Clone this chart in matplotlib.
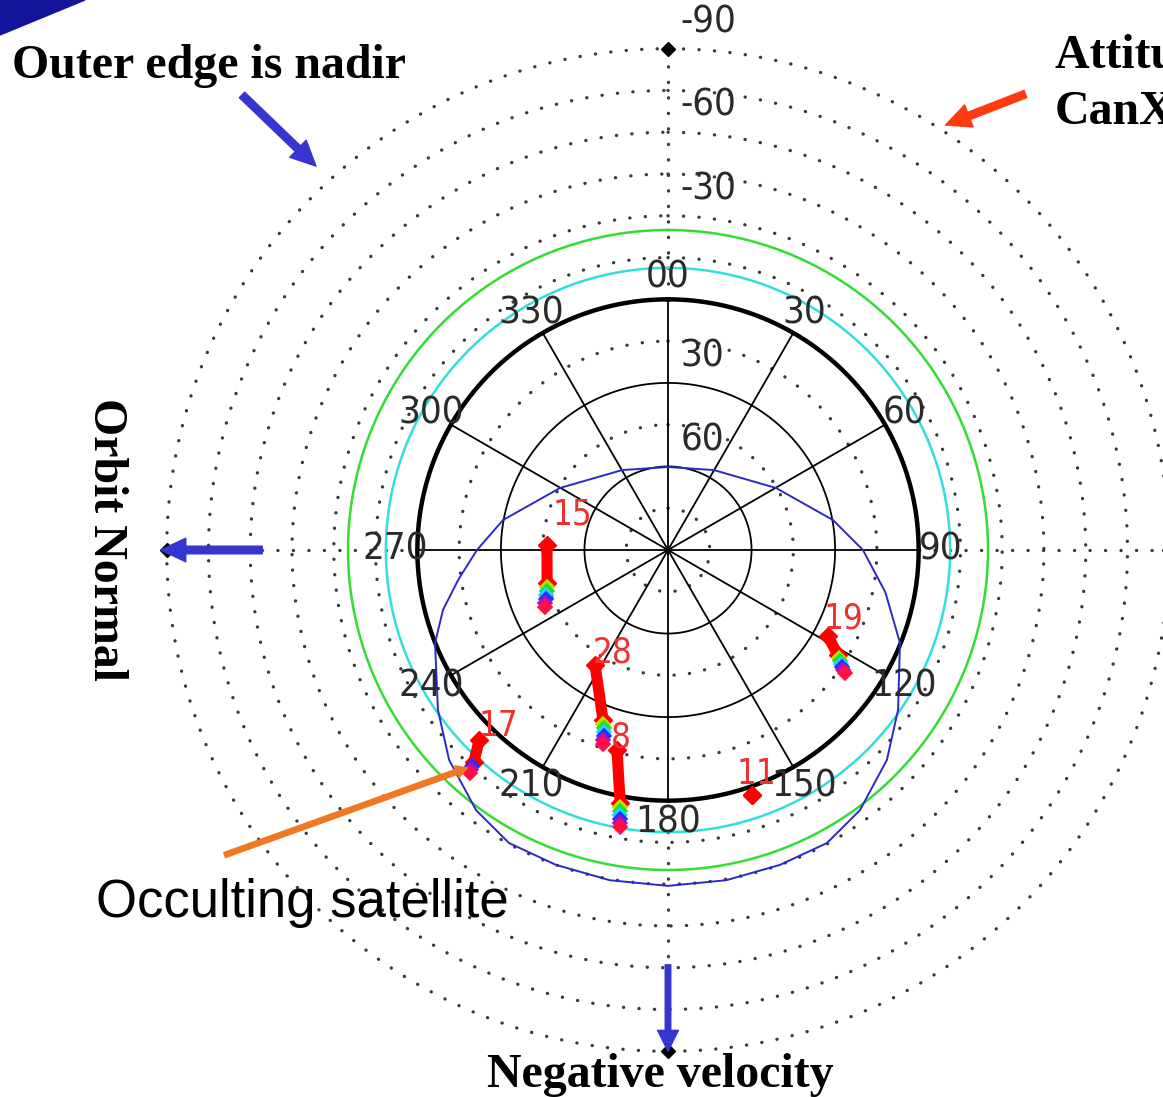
import numpy as np
import matplotlib.pyplot as plt

# sky plot: azimuth clockwise from top, radius = 90 - elevation (deg)
dotted_elev = [75, 45, 15, -15, -30, -45, -60, -75, -90]
solid_elev = [60, 30]
horizon_elev = 0
spoke_az = [0, 30, 60, 90, 120, 150, 180, 210, 240, 270, 300, 330]
az_labels = ['00', '30', '60', '90', '120', '150', '180', '210', '240', '270', '300', '330']
elev_labels = [60, 30, -30, -60, -90]
green_elev = -24.9
cyan_elev = -11.3

# blue boundary curve
blue_az = [0, 29.9, 60.1, 79.7, 90, 101, 111.8, 124.8, 133.8, 143.6, 151.5, 160.4, 170, 180,
           190, 199.6, 208.5, 216.4, 226.2, 235.2, 248.2, 255.1, 262, 270, 280.3, 299.9, 330.1, 360]
blue_el = [60.2, 56.9, 45.3, 29.8, 20.0, 10.5, 0.3, -10.6, -18.9, -26.1, -29.7, -30.0, -30.4, -30.6,
           -30.4, -30.0, -29.7, -26.1, -18.9, -10.6, -0.1, 6.4, 14.0, 21.4, 29.8, 45.3, 56.9, 60.2]

# satellite tracks: red segment (start, end) then rainbow tail points
sat_names = ['15', '28', '8', '19', '17', '11']
sat_start_az = [272.4, 212.4, 194.3, 118.3, 224.8, 161.1]
sat_start_el = [46.5, 41.1, 15.9, 24.8, -6.2, -3.0]
sat_end_az = [254.7, 200.9, 190.7, 121.7, 222.5, 161.1]
sat_end_el = [45.0, 24.6, -2.5, 18.3, -13.2, -3.0]
tail15_az = [253.0, 251.3, 249.8, 248.1, 246.7, 245.1]
tail15_el = [44.6, 44.1, 43.3, 42.8, 41.9, 41.3]
tail28_az = [200.5, 199.8, 199.4, 199.0, 198.9, 198.5]
tail28_el = [23.3, 22.1, 20.7, 19.4, 17.9, 16.5]
tail8_az = [190.6, 190.4, 190.3, 190.1, 190.0, 189.8]
tail8_el = [-3.9, -5.3, -6.7, -8.1, -9.5, -10.9]
tail19_az = [122.3, 122.8, 123.4, 123.9, 124.4, 124.8]
tail19_el = [17.4, 16.5, 15.6, 14.7, 13.8, 12.6]
tail17_az = [222.2, 221.9, 221.6]
tail17_el = [-14.7, -15.9, -17.1]
tail_colors = ['#b8e000', '#20e020', '#20d0ff', '#2030ff', '#b010c0', '#ff1040']
label_off = [(18, 22), (13, 9), (3, 9), (11, 13), (14, 10), (3, 15)]

tick_font = ['DejaVu Sans']
serif = ['Liberation Serif', 'DejaVu Serif']

W, H = 1163, 1097
fig = plt.figure(figsize=(W / 100, H / 100), dpi=100)
cx, cy, rad = 668, 550, 501.3
ax = fig.add_axes([(cx - rad) / W, 1 - (cy + rad) / H, 2 * rad / W, 2 * rad / H],
                  projection='polar')
ax.set_theta_zero_location('N')
ax.set_theta_direction(-1)
ax.set_rlim(0, 180)
ax.axis('off')

th = np.linspace(0, 2 * np.pi, 721)
dots = dict(color='#3a3a3a', lw=2.4, ls=(0, (0.05, 4.6)), dash_capstyle='round', clip_on=False)
for e in dotted_elev:
    ax.plot(th, np.full_like(th, 90 - e), **dots)
for a in [0, 90, 180, 270]:
    ax.plot([np.radians(a)] * 2, [90, 180], **dots)
    ax.plot(np.radians(a), 180, 'D', color='black', ms=7, clip_on=False)

for a in spoke_az:
    ax.plot([np.radians(a)] * 2, [0, 90], color='black', lw=1.3)
for e in solid_elev:
    ax.plot(th, np.full_like(th, 90 - e), color='black', lw=1.3)
ax.plot(th, np.full_like(th, 90 - horizon_elev), color='black', lw=3.2)

ax.plot(th, np.full_like(th, 90 - green_elev), color='#33dd33', lw=1.8)
ax.plot(th, np.full_like(th, 90 - cyan_elev), color='#33dddd', lw=1.8)
ax.plot(np.radians(blue_az), 90 - np.array(blue_el), color='#2a2acc', lw=1.4)

for a, lab in zip(spoke_az, az_labels):
    ax.text(np.radians(a), 98, lab, ha='center', va='center', fontsize=27.5,
            family=tick_font, stretch='condensed', color='#2a2a2a')
for e in elev_labels:
    ax.annotate(str(e), xy=(0, 90 - e), xytext=(9, 19), textcoords='offset points',
                ha='left', va='center', fontsize=27.5, family=tick_font,
                stretch='condensed', color='#2a2a2a')

tails = {'15': (tail15_az, tail15_el), '28': (tail28_az, tail28_el),
         '8': (tail8_az, tail8_el), '19': (tail19_az, tail19_el),
         '17': (tail17_az, tail17_el)}
for i, name in enumerate(sat_names):
    t0, t1 = np.radians(sat_start_az[i]), np.radians(sat_end_az[i])
    r0, r1 = 90 - sat_start_el[i], 90 - sat_end_el[i]
    ax.plot([t0, t1], [r0, r1], color='red', lw=8, solid_capstyle='butt')
    ax.plot([t0, t1], [r0, r1], 'D', color='red', ms=9)
    if name in tails:
        taz, tel = tails[name]
        cols = tail_colors[-len(taz):] if len(taz) < 6 else tail_colors
        ax.scatter(np.radians(taz), 90 - np.array(tel), marker='D', s=70,
                   c=cols, zorder=5, linewidths=0)
    ax.annotate(name, xy=(t0, r0), xytext=(label_off[i][0], label_off[i][1]),
                textcoords='offset points', ha='center', va='center',
                fontsize=25, family=tick_font, stretch='condensed', color='#ee3030')

# overlay in pixel coordinates for the slide annotations
ov = fig.add_axes([0, 0, 1, 1])
ov.set_xlim(0, W)
ov.set_ylim(H, 0)
ov.axis('off')
ov.fill([0, 85, 0], [0, 0, 35], color='#14149a')

blue = '#3535d0'
arrow = 'simple,head_length=1.8,head_width=1.7,tail_width=0.55'
ov.annotate('', xy=(318, 168), xytext=(240, 93),
            arrowprops=dict(arrowstyle=arrow, color=blue, mutation_scale=10))
ov.annotate('', xy=(943, 126), xytext=(1028, 93),
            arrowprops=dict(arrowstyle=arrow, color='#ff3a10', mutation_scale=10))
ov.annotate('', xy=(158, 550), xytext=(265, 550),
            arrowprops=dict(arrowstyle=arrow, color=blue, mutation_scale=10))
ov.annotate('', xy=(668, 1054), xytext=(668, 962),
            arrowprops=dict(arrowstyle='simple,head_length=1.5,head_width=1.5,tail_width=0.4',
                            color=blue, mutation_scale=10))
ov.annotate('', xy=(470, 767), xytext=(222, 856),
            arrowprops=dict(arrowstyle='simple,head_length=0.8,head_width=0.9,tail_width=0.38',
                            color='#f07822', mutation_scale=10))

ov.text(12, 78, 'Outer edge is nadir', fontsize=34.5, fontweight='bold', family=serif,
        va='baseline', ha='left')
ov.text(1055, 68, 'Attitude of', fontsize=34.5, fontweight='bold', family=serif,
        va='baseline', ha='left')
ov.text(1055, 124, 'CanX-2', fontsize=34.5, fontweight='bold', family=serif,
        va='baseline', ha='left')
ov.text(106, 540, 'Orbit Normal', fontsize=34.5, fontweight='bold', family=serif,
        rotation=-90, ha='center', va='center')
ov.text(660, 1087, 'Negative velocity', fontsize=34.5, fontweight='bold', family=serif,
        ha='center', va='baseline')
ov.text(96, 917, 'Occulting satellite', fontsize=38, family=['Liberation Sans', 'DejaVu Sans'],
        ha='left', va='baseline')

fig.savefig('out.png', dpi=100)
